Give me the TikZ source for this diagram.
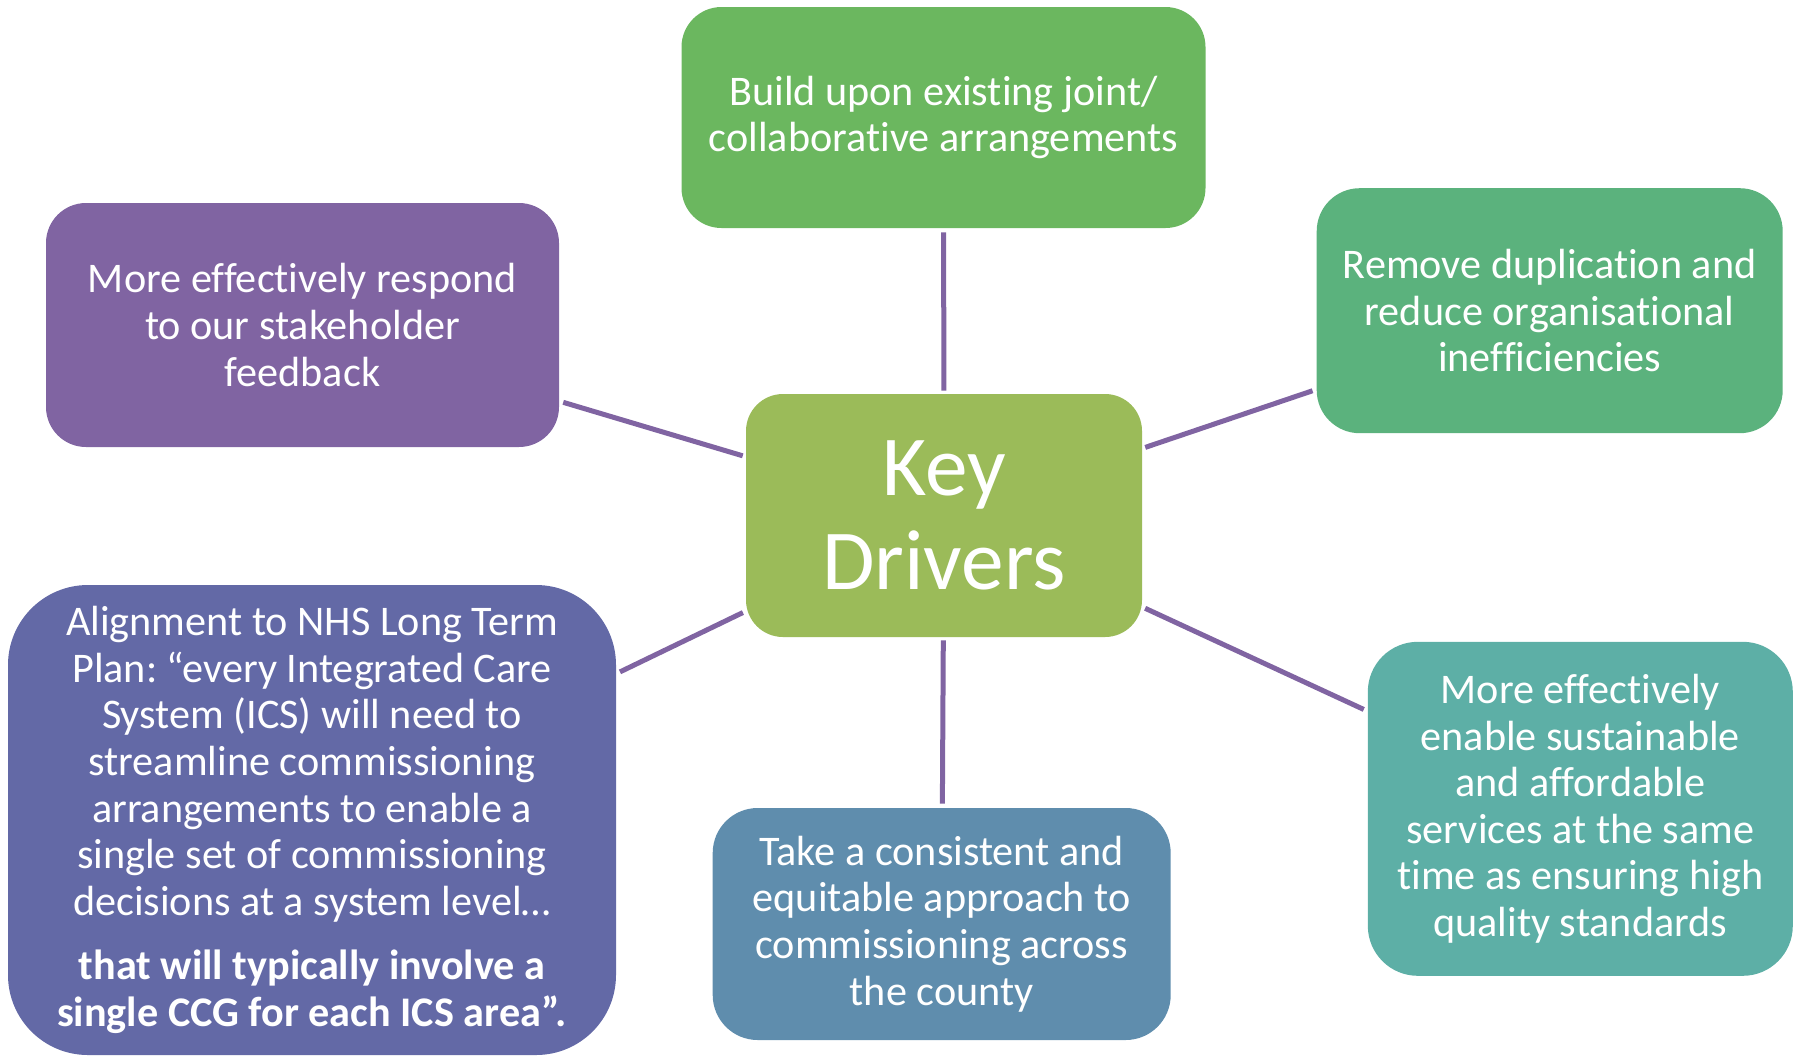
\documentclass[tikz,border=0pt]{standalone}
\usepackage{fontspec}
\setmainfont{Carlito}[Ligatures=CommonOff]
\frenchspacing
\definecolor{kdgreen}{HTML}{9BBB59}
\definecolor{topgreen}{HTML}{6BB75F}
\definecolor{seagreen}{HTML}{5BB27D}
\definecolor{tealbox}{HTML}{5DAFA6}
\definecolor{steelbox}{HTML}{5F8DAD}
\definecolor{indigobox}{HTML}{6369A6}
\definecolor{plum}{HTML}{8064A2}
\begin{document}
\begin{tikzpicture}[x=0.5pt,y=-0.5pt,
    driver/.style={rectangle, rounded corners=20pt, text=white, align=center,
      inner sep=0pt, font=\fontsize{21.1}{23.3}\selectfont},
    spoke/.style={draw=plum, line width=2.5pt, shorten <=1.5pt, shorten >=2pt}]
    \useasboundingbox (0,0) rectangle (1799,1056);
    % centre
    \node[driver, fill=kdgreen, rounded corners=18.5pt, minimum width=198pt,
      minimum height=121.5pt, font=\fontsize{42.7}{47}\selectfont] (kd) at (944,515.5) {Key\\Drivers};
    % the six drivers
    \node[driver, fill=topgreen, minimum width=262pt, minimum height=110.5pt] (build) at (943.5,117.5)
      {Build upon existing joint/\\collaborative arrangements};
    \node[driver, fill=plum, minimum width=256.5pt, minimum height=122pt] (respond) at (302.5,325)
      {More effectively respond\\to our stakeholder\\feedback};
    \node[driver, fill=seagreen, rounded corners=21.5pt, minimum width=233pt, minimum height=122.5pt] (remove) at (1549.7,310.7)
      {Remove duplication and\\reduce organisational\\inefficiencies};
    \node[driver, fill=tealbox, rounded corners=25pt, minimum width=212.5pt, minimum height=167pt] (enable) at (1580.3,808.8)
      {More effectively\\enable sustainable\\and affordable\\services at the same\\time as ensuring high\\quality standards};
    \node[driver, fill=steelbox, rounded corners=22.5pt, minimum width=229pt, minimum height=116pt] (equit) at (941.7,924)
      {Take a consistent and\\equitable approach to\\commissioning across\\the county};
    \node[driver, fill=indigobox, rounded corners=40pt, minimum width=304pt, minimum height=235pt] (ltp) at (312,820)
      {Alignment to NHS Long Term\\Plan: “every Integrated Care\\System (ICS) will need to\\streamline commissioning\\arrangements to enable a\\single set of commissioning\\decisions at a system level…\\[9pt]
       \textbf{that will typically involve a}\\\textbf{single CCG for each ICS area”.}};
    % spokes
    \foreach \d in {build,respond,remove,enable,equit,ltp}
      \draw[spoke] (kd) -- (\d);
\end{tikzpicture}
\end{document}
